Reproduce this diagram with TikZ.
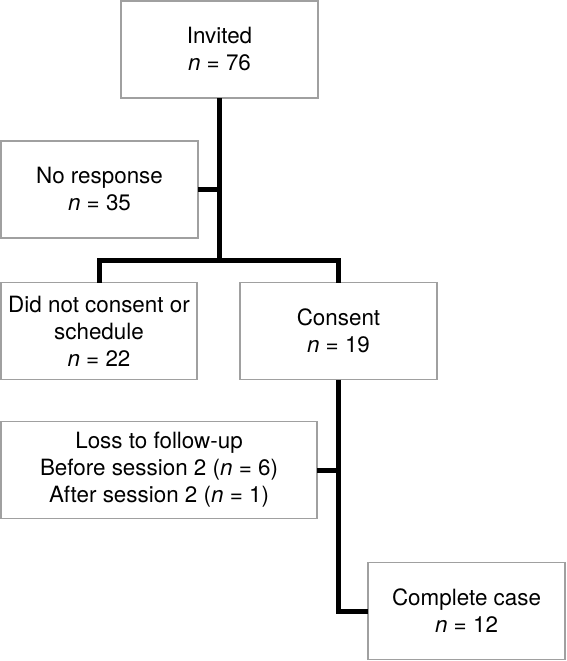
\documentclass[tikz,border=0pt]{standalone}
\usepackage{fontspec}
\setmainfont{TeX Gyre Heros}
\definecolor{boxgray}{RGB}{160,160,160}
\begin{document}
\begin{tikzpicture}[x=1pt,y=-1pt,
  box/.style={draw=boxgray, line width=1.8pt, fill=white, inner sep=0pt, outer sep=0pt,
    align=center, minimum height=97pt, font=\fontsize{22.4}{27}\selectfont},
  conn/.style={draw=black, line width=5pt}]
\useasboundingbox (0,0) rectangle (566,661);
\node[box, minimum width=197pt] (inv) at (219.5,49.5) {Invited\\\textit{n} = 76};
\node[box, minimum width=197pt] (nr) at (99.5,189.5) {No response\\\textit{n} = 35};
\node[box, minimum width=196pt] (dnc) at (99,331) {Did not consent or\\schedule\\\textit{n} = 22};
\node[box, minimum width=197pt] (con) at (338.5,331) {Consent\\\textit{n} = 19};
\node[box, minimum width=316pt] (loss) at (159,470) {Loss to follow-up\\Before session 2 (\textit{n} = 6)\\After session 2 (\textit{n} = 1)};
\node[box, minimum width=197pt] (cc) at (466.5,611) {Complete case\\\textit{n} = 12};
\coordinate (j) at (219.5,260.5);
\draw[conn] (inv.south) -- (j);
\draw[conn] (dnc.north) |- (j) -| (con.north);
\draw[conn] (nr.east) -- (nr.east -| inv.south);
\draw[conn] (con.south) |- (cc.west);
\draw[conn] (loss.east) -- (loss.east -| con.south);
\end{tikzpicture}
\end{document}
